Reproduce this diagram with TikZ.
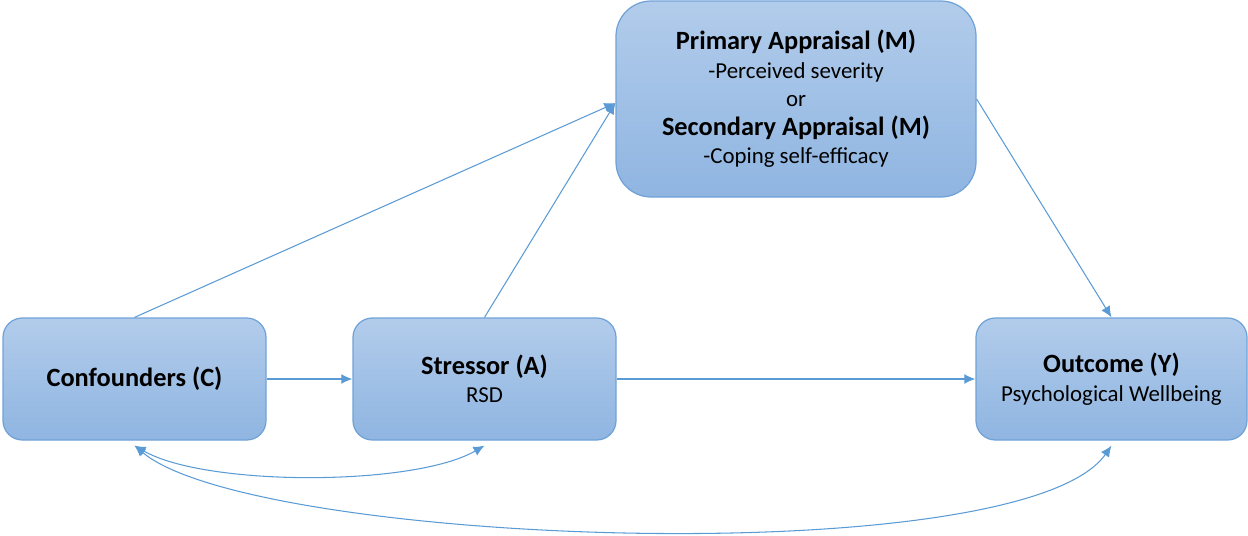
\documentclass[tikz,border=0pt]{standalone}
\usepackage{fontspec}
\setmainfont{Carlito}
\usetikzlibrary{arrows.meta}

\definecolor{boxtop}{RGB}{178,204,235}
\definecolor{boxbottom}{RGB}{143,181,225}
\definecolor{boxline}{RGB}{112,162,216}
\definecolor{arrowblue}{RGB}{91,155,213}

\begin{document}
\begin{tikzpicture}[
		box/.style={draw=boxline, line width=0.7pt, rounded corners=11pt, top color=boxtop, bottom color=boxbottom, align=center, inner sep=0pt, font=\fontsize{13}{16.2}\selectfont},
		link/.style={draw=arrowblue, line width=0.6pt, -{Latex[length=6.3pt, width=5.6pt]}},
		both/.style={link, {Latex[length=6.3pt, width=5.6pt]}-{Latex[length=6.3pt, width=5.6pt]}}
	]

		\useasboundingbox (0,0) rectangle (24.96,-10.7);

		\node[box, minimum width=5.26cm, minimum height=2.44cm] (C) at (2.69,-7.58) {\fontsize{15}{16.2}\selectfont\bfseries Confounders (C)};
		\node[box, minimum width=5.26cm, minimum height=2.44cm] (A) at (9.69,-7.58) {{\fontsize{15}{16.2}\selectfont\bfseries Stressor (A)}\\RSD};
		\node[box, minimum width=5.42cm, minimum height=2.44cm] (Y) at (22.23,-7.58) {{\fontsize{15}{16.2}\selectfont\bfseries Outcome (Y)}\\Psychological Wellbeing};
		\node[box, rounded corners=20pt, minimum width=7.2cm, minimum height=3.92cm] (M) at (15.92,-1.98) {%
			{\fontsize{15}{16.2}\selectfont\bfseries Primary Appraisal (M)}\\
			-Perceived severity\\
			or\\
			{\fontsize{15}{16.2}\selectfont\bfseries Secondary Appraisal (M)}\\
			-Coping self-efficacy};

		\draw[link] (C.north) -- ([yshift=-0.08cm]M.west);
		\draw[link] (A.north) -- ([yshift=-0.08cm]M.west);
		\draw[link] (M.east) -- (Y.north);
		\draw[link] (C.east) -- (A.west);
		\draw[link] (A.east) -- (Y.west);
		\draw[both] ([yshift=-0.1cm]C.south) to[out=-30, in=-150, looseness=0.6] ([yshift=-0.1cm]A.south);
		\draw[both] ([yshift=-0.1cm]C.south) to[out=-40, in=-125, looseness=0.41] ([yshift=-0.1cm]Y.south);

	\end{tikzpicture}
\end{document}
